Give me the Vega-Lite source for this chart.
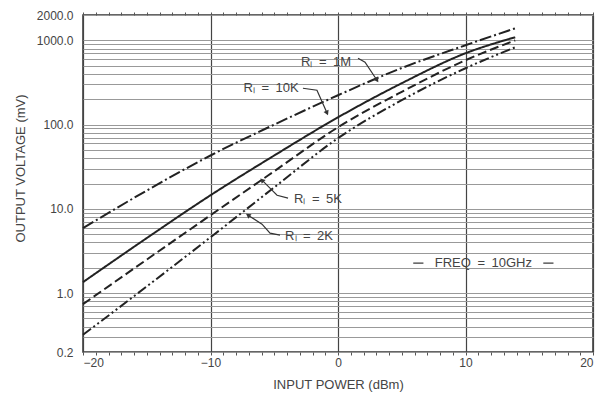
{
  "$schema": "https://vega.github.io/schema/vega-lite/v6.json",
  "width": 510,
  "height": 337,
  "autosize": "none",
  "padding": {"left": 83, "top": 15, "right": 20, "bottom": 46},
  "background": "white",
  "config": {
    "font": "Liberation Sans",
    "view": {"stroke": "#333", "strokeWidth": 1.5},
    "axis": {"labelFont": "Liberation Sans", "titleFont": "Liberation Sans", "labelColor": "#444", "titleColor": "#444", "titleFontWeight": "normal", "labelFontSize": 12, "titleFontSize": 13}
  },
  "datasets": {
    "curves": [
      {"series": "1M", "dbm": -20, "mv": 5.9},
      {"series": "1M", "dbm": -15, "mv": 16.5},
      {"series": "1M", "dbm": -10, "mv": 43},
      {"series": "1M", "dbm": -5, "mv": 100},
      {"series": "1M", "dbm": 0, "mv": 223},
      {"series": "1M", "dbm": 5, "mv": 470},
      {"series": "1M", "dbm": 10, "mv": 875},
      {"series": "1M", "dbm": 13.9, "mv": 1390},
      {"series": "10K", "dbm": -20, "mv": 1.35},
      {"series": "10K", "dbm": -15, "mv": 4.5},
      {"series": "10K", "dbm": -10, "mv": 14.5},
      {"series": "10K", "dbm": -5, "mv": 43},
      {"series": "10K", "dbm": 0, "mv": 122},
      {"series": "10K", "dbm": 5, "mv": 310},
      {"series": "10K", "dbm": 10, "mv": 703},
      {"series": "10K", "dbm": 13.9, "mv": 1090},
      {"series": "5K", "dbm": -20, "mv": 0.74},
      {"series": "5K", "dbm": -15, "mv": 2.5},
      {"series": "5K", "dbm": -10, "mv": 8.4},
      {"series": "5K", "dbm": -5, "mv": 28},
      {"series": "5K", "dbm": 0, "mv": 93},
      {"series": "5K", "dbm": 5, "mv": 245},
      {"series": "5K", "dbm": 10, "mv": 581},
      {"series": "5K", "dbm": 13.9, "mv": 1000},
      {"series": "2K", "dbm": -20, "mv": 0.32},
      {"series": "2K", "dbm": -15, "mv": 1.2},
      {"series": "2K", "dbm": -10, "mv": 4.6},
      {"series": "2K", "dbm": -5, "mv": 18},
      {"series": "2K", "dbm": 0, "mv": 69},
      {"series": "2K", "dbm": 5, "mv": 195},
      {"series": "2K", "dbm": 10, "mv": 467},
      {"series": "2K", "dbm": 13.9, "mv": 828}
    ],
    "labels": [
      {"label": "R\u2097\u2002=\u20021M", "dbm": -0.94, "mv": 550},
      {"label": "R\u2097\u2002=\u200210K", "dbm": -5.25, "mv": 270},
      {"label": "R\u2097\u2002=\u20025K", "dbm": -1.57, "mv": 13.0},
      {"label": "R\u2097\u2002=\u20022K", "dbm": -2.27, "mv": 4.75},
      {"label": "FREQ\u2002=\u200210GHz", "dbm": 11.4, "mv": 2.27}
    ],
    "leaders": [
      {"id": "1M", "o": 1, "dbm": 1.57, "mv": 613},
      {"id": "1M", "o": 2, "dbm": 2.12, "mv": 550},
      {"id": "1M", "o": 3, "dbm": 3.06, "mv": 336},
      {"id": "10K", "o": 1, "dbm": -2.75, "mv": 270},
      {"id": "10K", "o": 2, "dbm": -1.65, "mv": 256},
      {"id": "10K", "o": 3, "dbm": -0.86, "mv": 137},
      {"id": "5K", "o": 1, "dbm": -3.92, "mv": 13.4},
      {"id": "5K", "o": 2, "dbm": -4.78, "mv": 14.5},
      {"id": "5K", "o": 3, "dbm": -5.18, "mv": 16.7},
      {"id": "5K", "o": 4, "dbm": -5.96, "mv": 21.9},
      {"id": "2K", "o": 1, "dbm": -4.55, "mv": 4.88},
      {"id": "2K", "o": 2, "dbm": -5.33, "mv": 5.15},
      {"id": "2K", "o": 3, "dbm": -5.96, "mv": 6.59},
      {"id": "2K", "o": 4, "dbm": -7.06, "mv": 8.42},
      {"id": "FL", "o": 1, "dbm": 5.9, "mv": 2.27},
      {"id": "FL", "o": 2, "dbm": 6.7, "mv": 2.27},
      {"id": "FR", "o": 1, "dbm": 16.1, "mv": 2.27},
      {"id": "FR", "o": 2, "dbm": 16.9, "mv": 2.27}
    ]
  },
  "layer": [
    {
      "data": {"name": "curves"},
      "mark": {"type": "line", "strokeWidth": 2, "color": "#222", "interpolate": "monotone"},
      "encoding": {
        "x": {
          "field": "dbm", "type": "quantitative",
          "scale": {"domain": [-20, 20], "nice": false, "zero": false},
          "axis": {
            "orient": "bottom", "title": "INPUT POWER (dBm)",
            "values": [-20,-19,-18,-17,-16,-15,-14,-13,-12,-11,-10,-9,-8,-7,-6,-5,-4,-3,-2,-1,0,1,2,3,4,5,6,7,8,9,10,11,12,13,14,15,16,17,18,19,20],
            "labelExpr": "datum.value % 10 === 0 ? datum.label : ''",
            "labelOverlap": false,
            "ticks": true, "tickSize": 3, "tickWidth": 1, "tickColor": "#555",
            "domain": false,
            "grid": true, "gridColor": "#444", "gridWidth": 1.2,
            "gridOpacity": {"condition": {"test": "datum.value % 10 === 0", "value": 1}, "value": 0},
            "labelPadding": 2,
            "titleBaseline": "middle", "titleY": 32
          }
        },
        "y": {
          "field": "mv", "type": "quantitative",
          "scale": {"type": "log", "domain": [0.2, 2000], "nice": false},
          "axis": {
            "title": "OUTPUT VOLTAGE (mV)",
            "values": [0.2,0.3,0.4,0.5,0.6,0.7,0.8,0.9,1,2,3,4,5,6,7,8,9,10,20,30,40,50,60,70,80,90,100,200,300,400,500,600,700,800,900,1000,2000],
            "labelExpr": "indexof([0.2,1,10,100,1000,2000], datum.value) >= 0 ? format(datum.value, '.1f') : ''",
            "labelOverlap": false,
            "ticks": false, "domain": false,
            "grid": true, "gridColor": "#999", "gridWidth": 1,
            "labelPadding": 10,
            "titleAngle": 270, "titleX": -63, "titleY": 153, "titleAlign": "center", "titleBaseline": "middle"
          }
        },
        "strokeDash": {
          "field": "series", "type": "nominal",
          "scale": {"domain": ["1M", "10K", "5K", "2K"], "range": [[12, 3, 2, 3], [1, 0], [9, 4], [10, 3, 2, 3, 2, 3]]},
          "legend": null
        }
      }
    },
    {
      "data": {"name": "leaders"},
      "mark": {"type": "line", "strokeWidth": 1.2, "color": "#333"},
      "encoding": {
        "x": {
          "field": "dbm", "type": "quantitative",
          "axis": {
            "orient": "top", "title": null, "labels": false, "grid": false, "domain": false,
            "values": [-20,-19,-18,-17,-16,-15,-14,-13,-12,-11,-10,-9,-8,-7,-6,-5,-4,-3,-2,-1,0,1,2,3,4,5,6,7,8,9,10,11,12,13,14,15,16,17,18,19,20],
            "ticks": true, "tickSize": 3, "tickWidth": 1, "tickColor": "#555"
          }
        },
        "y": {"field": "mv", "type": "quantitative"},
        "detail": {"field": "id", "type": "nominal"},
        "order": {"field": "o", "type": "quantitative"}
      }
    },
    {
      "data": {"values": [{"dbm": 3.06, "mv": 336}]},
      "mark": {"type": "point", "shape": "triangle-up", "filled": true, "size": 30, "angle": 146, "color": "#333", "opacity": 1},
      "encoding": {"x": {"field": "dbm", "type": "quantitative", "axis": null}, "y": {"field": "mv", "type": "quantitative"}}
    },
    {
      "data": {"values": [{"dbm": -0.86, "mv": 137}]},
      "mark": {"type": "point", "shape": "triangle-up", "filled": true, "size": 30, "angle": 156, "color": "#333", "opacity": 1},
      "encoding": {"x": {"field": "dbm", "type": "quantitative", "axis": null}, "y": {"field": "mv", "type": "quantitative"}}
    },
    {
      "data": {"values": [{"dbm": -5.96, "mv": 21.9}]},
      "mark": {"type": "point", "shape": "triangle-up", "filled": true, "size": 30, "angle": 315, "color": "#333", "opacity": 1},
      "encoding": {"x": {"field": "dbm", "type": "quantitative", "axis": null}, "y": {"field": "mv", "type": "quantitative"}}
    },
    {
      "data": {"values": [{"dbm": -7.06, "mv": 8.42}]},
      "mark": {"type": "point", "shape": "triangle-up", "filled": true, "size": 30, "angle": 305, "color": "#333", "opacity": 1},
      "encoding": {"x": {"field": "dbm", "type": "quantitative", "axis": null}, "y": {"field": "mv", "type": "quantitative"}}
    },
    {
      "data": {"name": "labels"},
      "mark": {"type": "text", "font": "Liberation Sans", "fontSize": 13, "color": "#444", "align": "center", "baseline": "middle"},
      "encoding": {
        "x": {"field": "dbm", "type": "quantitative", "axis": null},
        "y": {"field": "mv", "type": "quantitative"},
        "text": {"field": "label", "type": "nominal"}
      }
    }
  ],
  "resolve": {"axis": {"x": "independent"}}
}
